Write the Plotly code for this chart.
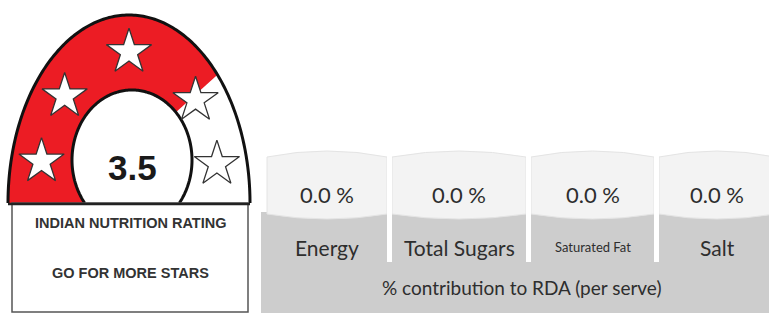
import numpy as np
import plotly.graph_objects as go

# ---------------- data ----------------
rating = 3.5
max_stars = 5
nutrients = ["Energy", "Total Sugars", "Saturated Fat", "Salt"]
rda_percent = [0.0, 0.0, 0.0, 0.0]
caption = "% contribution to RDA (per serve)"
label_lines = ["INDIAN NUTRITION RATING", "GO FOR MORE STARS"]

# ---------------- layout constants ----------------
W, H = 769, 313
CX, BASE = 129, 203          # arch centre / base line
ORX, ORY = 121, 188          # outer arch radii
IX, IY, IRX, IRY = 132, 160, 60, 70   # inner white disc
MRX, MRY = 91, 151           # ring on which the stars sit
STAR_ANG = [164, 135, 90, 43, 15]
RED = "#ec1c24"

CARD_X = [(267, 387), (392, 526), (531, 654), (659, 775)]
LABEL_SIZES = [21, 21, 13, 21]
TEXT_COL = "#2e2e2e"


def path_from(points, close=True):
    s = "M " + " L ".join(f"{x:.2f},{y:.2f}" for x, y in points)
    return s + (" Z" if close else "")


def outer_pt(a):
    r = np.radians(a)
    return CX + ORX * np.cos(r), BASE - ORY * np.sin(r)


def inner_pt(a):
    r = np.radians(a)
    return IX + IRX * np.cos(r), IY - IRY * np.sin(r)


# angle where inner disc meets base line
phi = np.degrees(np.arcsin((BASE - IY) / IRY))

# angle up to which the ring is filled red (follows the rating)
fill_ang = float(np.interp(rating, [0, 0.5, 1.5, 2.5, 3.5, 4.5, max_stars],
                           [180] + STAR_ANG + [0]))

shapes = []
# red filled part of the ring
pts = [outer_pt(a) for a in np.linspace(180, fill_ang, 120)]
pts += [inner_pt(a) for a in np.linspace(fill_ang, 180 + phi, 120)]
pts += [(CX - ORX, BASE)]
shapes.append(dict(type="path", path=path_from(pts), fillcolor=RED,
                   line=dict(width=0), layer="below"))
# inner white disc with outline
ipts = [inner_pt(a) for a in np.linspace(-phi, 180 + phi, 200)]
shapes.append(dict(type="path", path=path_from(ipts, close=False), fillcolor="white",
                   line=dict(color="#111111", width=3), layer="below"))
# outer arch outline
opts = [outer_pt(a) for a in np.linspace(0, 180, 200)]
shapes.append(dict(type="path", path=path_from(opts, close=False),
                   line=dict(color="#111111", width=3), layer="below"))
# label box
shapes.append(dict(type="rect", x0=12, x1=248, y0=BASE, y1=312,
                   line=dict(color="#555555", width=1.5), fillcolor="white", layer="below"))
shapes.append(dict(type="line", x0=CX - ORX, x1=CX + ORX, y0=BASE + 1, y1=BASE + 1,
                   line=dict(color="#222222", width=2.5), layer="below"))

# right panel: grey band
shapes.append(dict(type="rect", x0=261, x1=W + 5, y0=212, y1=H + 5,
                   fillcolor="#cdcdcd", line=dict(width=0), layer="below"))
for (x0, x1) in CARD_X:
    xm = (x0 + x1) / 2
    p = (f"M {x0},214 L {x0},157 Q {xm},145 {x1},157 L {x1},214 "
         f"Q {xm},224 {x0},214 Z")
    shapes.append(dict(type="path", path=p, fillcolor="#f3f3f3",
                       line=dict(color="#e4e4e4", width=1), layer="below"))
for i in range(len(CARD_X) - 1):
    gx0 = CARD_X[i][1]
    gx1 = CARD_X[i + 1][0]
    shapes.append(dict(type="rect", x0=gx0, x1=gx1, y0=150, y1=262,
                       fillcolor="#ffffff", line=dict(width=0), layer="below"))

fig = go.Figure()

# stars
sx, sy = [], []
for a in STAR_ANG[:max_stars]:
    r = np.radians(a)
    sx.append(CX + MRX * np.cos(r))
    sy.append(BASE - MRY * np.sin(r))
fig.add_trace(go.Scatter(
    x=sx, y=sy, mode="markers", hoverinfo="skip",
    marker=dict(symbol="star", size=34, color="white",
                line=dict(color="#333333", width=1.3))))

annotations = []
annotations.append(dict(x=IX, y=167, text=f"{rating:.1f}", showarrow=False,
                        font=dict(family="Liberation Sans, Arial", size=35,
                                  color="#1a1a1a", weight="bold")))
for txt, yy in zip(label_lines, [223, 273]):
    annotations.append(dict(x=130, y=yy, text=txt, showarrow=False,
                            font=dict(family="Liberation Sans Narrow, Arial Narrow, Liberation Sans",
                                      size=14.5, color="#333333", weight="bold")))

for (x0, x1), name, val, fs in zip(CARD_X, nutrients, rda_percent, LABEL_SIZES):
    xm = x0 + 58 if x1 > W else (x0 + x1) / 2
    annotations.append(dict(x=xm, y=194, text=f"{val:.1f} %", showarrow=False,
                            font=dict(family="Lato", size=22, color=TEXT_COL)))
    annotations.append(dict(x=xm, y=247, text=name, showarrow=False,
                            font=dict(family="Lato", size=fs, color=TEXT_COL)))
annotations.append(dict(x=522, y=287, text=caption, showarrow=False,
                        font=dict(family="Lato", size=19, color=TEXT_COL)))

fig.update_layout(
    width=W, height=H, margin=dict(l=0, r=0, t=0, b=0),
    paper_bgcolor="white", plot_bgcolor="white", showlegend=False,
    xaxis=dict(range=[0, W], visible=False, fixedrange=True),
    yaxis=dict(range=[H, 0], visible=False, fixedrange=True),
    shapes=shapes, annotations=annotations,
)
fig.write_html("out.html", config={"displayModeBar": False},
               post_script="document.body.style.margin='0';document.body.style.overflow='hidden';")
